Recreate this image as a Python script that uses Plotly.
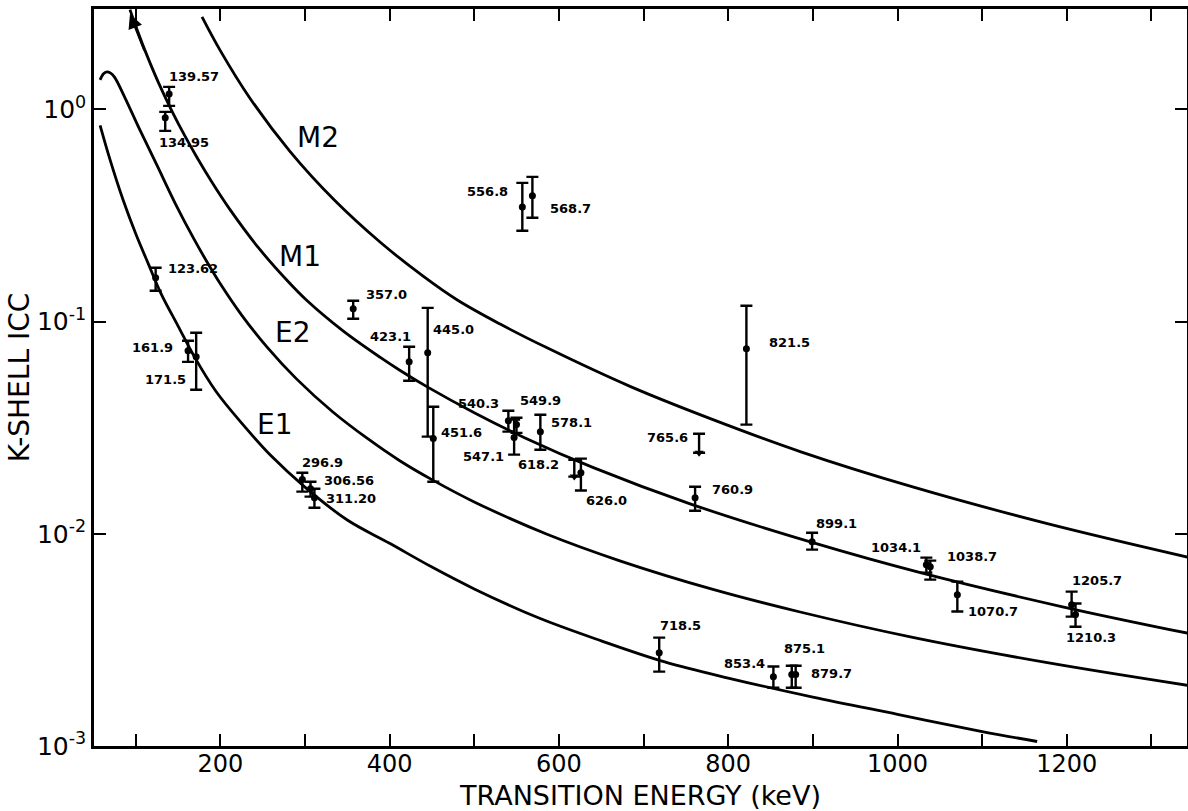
import math
import plotly.graph_objects as go

# ---------------- data ----------------
# theoretical K-shell ICC curves (keV, ICC)
e1_energy = [58, 70, 85, 100, 115, 130, 150, 170, 195, 225, 260, 300, 350, 400, 450, 500, 575, 650, 725,
             800, 900, 1000, 1100, 1165]
e1_icc = [0.841, 0.575, 0.376, 0.260, 0.187, 0.1355, 0.0955, 0.0676, 0.0468, 0.0333, 0.0233, 0.0166, 0.01161,
          0.00902, 0.00697, 0.00550, 0.00403, 0.00313, 0.00249, 0.00209, 0.00170, 0.00141, 0.00117, 0.00105]

e2_energy = [58, 62, 66, 70, 75, 87, 105, 125, 147, 168, 184, 200, 225, 255, 290, 333, 375, 412, 451, 500,
             586, 672, 782, 885, 1018, 1177, 1343]
e2_icc = [1.377, 1.472, 1.503, 1.486, 1.419, 1.143, 0.800, 0.547, 0.359, 0.2486, 0.1919, 0.1507, 0.1076, 0.0760,
          0.0537, 0.0375, 0.0279, 0.0221, 0.0179, 0.01413, 0.00995, 0.00746, 0.00547, 0.00428, 0.00325,
          0.00247, 0.00193]

m1_energy = [93.3, 100, 111, 126.4, 143, 158, 172.5, 190, 211.5, 245, 279, 302, 345, 389, 412, 445, 500, 560,
             640, 755, 900, 1027, 1195, 1343]
m1_icc = [2.951, 2.477, 1.897, 1.352, 0.9795, 0.7516, 0.5929, 0.4545, 0.3368, 0.2230, 0.1561, 0.1260, 0.0904,
          0.0678, 0.0590, 0.0491, 0.0372, 0.0283, 0.02056, 0.01384, 0.00908, 0.00656, 0.00453, 0.00340]

m2_energy = [178.4, 200, 235, 282, 335, 389, 440, 480, 530, 586, 684, 782, 885, 1018, 1177, 1343]
m2_icc = [2.728, 1.892, 1.129, 0.636, 0.3729, 0.2364, 0.1633, 0.1264, 0.0976, 0.0752, 0.0495, 0.0345, 0.0244,
          0.01663, 0.01117, 0.00776]

# measured points
pt_label = ["139.57", "134.95", "123.62", "161.9", "171.5", "296.9", "306.56", "311.20", "357.0", "423.1",
            "445.0", "451.6", "540.3", "547.1", "549.9", "578.1", "626.0", "556.8", "568.7", "821.5",
            "760.9", "899.1", "1034.1", "1038.7", "1070.7", "1205.7", "1210.3", "718.5", "853.4", "875.1", "879.7"]
pt_energy = [139.57, 134.95, 123.62, 161.9, 171.5, 296.9, 306.56, 311.20, 357.0, 423.1,
             445.0, 451.6, 540.3, 547.1, 549.9, 578.1, 626.0, 556.8, 568.7, 821.5,
             760.9, 899.1, 1034.1, 1038.7, 1070.7, 1205.7, 1210.3, 718.5, 853.4, 875.1, 879.7]
pt_icc = [1.183, 0.912, 0.1608, 0.0729, 0.0683, 0.0180, 0.01631, 0.01479, 0.1149, 0.0646,
          0.0713, 0.0281, 0.0341, 0.0284, 0.0327, 0.0303, 0.0194, 0.347, 0.3914, 0.0744,
          0.01479, 0.00918, 0.00715, 0.00700, 0.00516, 0.00463, 0.00416, 0.00275, 0.00212, 0.00217, 0.00217]
pt_icc_hi = [1.276, 0.973, 0.1792, 0.0812, 0.0886, 0.0194, 0.01759, 0.01631, 0.1253, 0.0761,
             0.1161, 0.0397, 0.0380, 0.0345, 0.0352, 0.0364, 0.0226, 0.4506, 0.4809, 0.1187,
             0.01667, 0.01012, 0.00772, 0.00747, 0.00595, 0.00534, 0.00469, 0.00324, 0.00237, 0.00239, 0.00239]
pt_icc_lo = [1.039, 0.792, 0.1397, 0.0646, 0.0477, 0.0158, 0.01496, 0.01327, 0.1031, 0.0526,
             0.0287, 0.01759, 0.0303, 0.0236, 0.0299, 0.0249, 0.0160, 0.2678, 0.3083, 0.0327,
             0.01285, 0.00842, 0.00656, 0.00608, 0.00430, 0.00407, 0.00365, 0.00224, 0.00188, 0.00188, 0.00188]

# upper limits
ul_label = ["618.2", "765.6"]
ul_energy = [618.2, 765.6]
ul_limit = [0.0223, 0.0296]
ul_tip = [0.0186, 0.0241]

x_tickvals = [200, 400, 600, 800, 1000, 1200]
x_ticktext = ["200", "400", "600", "800", "1000", "1200"]
y_tickvals = [0.001, 0.01, 0.1, 1]
y_ticktext = ["10<sup>-3</sup>", "10<sup>-2</sup>", "10<sup>-1</sup>", "10<sup>0</sup>"]

curve_names = ["E1", "E2", "M1", "M2"]

# ---------------- styling / layout constants ----------------
pt_shift = [(25, 17), (19, -25), (37, 9), (-36, 3), (-31, -23), (20, 17), (38, 8), (37, -1), (33, 14), (-19, 25),
            (26, 23), (28, 6), (-30, 17), (-31, -19), (24, 24), (31, 9), (26, -28), (-35, 15), (38, -13), (43, 6),
            (37, 8), (24, 18), (-30, 17), (42, 10), (36, -17), (25, 24), (15, -23), (21, 27), (-29, 13), (13, 26),
            (36, 1)]
ul_shift = [(-36, -5), (-32, -4)]
curve_label_pos = [(264.6, -1.4861), (285.8, -1.0528), (294.1, -0.6952), (315.4, -0.1342)]

FONT = "DejaVu Sans"
lab_font = dict(family=FONT, size=13, color="black", weight="bold")

fig = go.Figure()
for ex, ey in [(e1_energy, e1_icc), (e2_energy, e2_icc), (m1_energy, m1_icc), (m2_energy, m2_icc)]:
    fig.add_trace(go.Scatter(x=ex, y=ey, mode="lines", line=dict(color="black", width=2.8, shape="spline"),
                             showlegend=False, hoverinfo="skip"))

err_plus = [h - c for h, c in zip(pt_icc_hi, pt_icc)]
err_minus = [c - l for c, l in zip(pt_icc, pt_icc_lo)]
fig.add_trace(go.Scatter(x=pt_energy, y=pt_icc, mode="markers",
                         marker=dict(color="black", size=7),
                         error_y=dict(type="data", symmetric=False, array=err_plus, arrayminus=err_minus,
                                      color="black", thickness=2.4, width=6),
                         showlegend=False))
fig.add_trace(go.Scatter(x=ul_energy, y=ul_tip, mode="markers",
                         marker=dict(color="black", size=8, symbol="triangle-down"),
                         error_y=dict(type="data", symmetric=False,
                                      array=[l - t for l, t in zip(ul_limit, ul_tip)],
                                      arrayminus=[0] * len(ul_tip), color="black", thickness=2.4, width=6),
                         showlegend=False))

for lab, ex, ey, (dx, dy) in zip(pt_label, pt_energy, pt_icc, pt_shift):
    fig.add_annotation(x=ex, y=math.log10(ey), text=lab, showarrow=False, xshift=dx, yshift=dy, font=lab_font)
for lab, ex, ey, (dx, dy) in zip(ul_label, ul_energy, ul_limit, ul_shift):
    fig.add_annotation(x=ex, y=math.log10(ey), text=lab, showarrow=False, xshift=dx, yshift=dy, font=lab_font)
for name, (cx, cy) in zip(curve_names, curve_label_pos):
    fig.add_annotation(x=cx, y=cy, text=name, showarrow=False, font=dict(family=FONT, size=28, color="black"))

# arrowhead at the top end of the M1 curve
fig.add_annotation(x=m1_energy[0], y=math.log10(m1_icc[0]) - 0.02, ax=15, ay=38, text="", showarrow=True,
                   arrowhead=2, arrowsize=1.2, arrowwidth=2.4, arrowcolor="black")

axis_common = dict(showline=True, linecolor="black", linewidth=2.6, mirror="ticks", ticks="inside",
                   ticklen=12, tickwidth=2.2, tickcolor="black", showgrid=False, zeroline=False,
                   automargin=False)
fig.update_layout(
    width=1188, height=811,
    margin=dict(l=94, r=1, t=9, b=65),
    paper_bgcolor="white", plot_bgcolor="white",
    showlegend=False,
    xaxis=dict(range=[50.8, 1342], tickvals=x_tickvals, ticktext=x_ticktext,
               minor=dict(tickmode="linear", tick0=0, dtick=100, ticks="inside", ticklen=12, tickwidth=2.2,
                          tickcolor="black", showgrid=False),
               tickfont=dict(family=FONT, size=24, color="black"), ticklabelstandoff=-6,
               title=dict(text="TRANSITION ENERGY (keV)", font=dict(family=FONT, size=27, color="black")),
               **axis_common),
    yaxis=dict(type="log", range=[-3.0, 0.473], tickvals=y_tickvals, ticktext=y_ticktext,
               tickfont=dict(family=FONT, size=25, color="black"),
               title=dict(text="K-SHELL ICC", font=dict(family=FONT, size=28, color="black"), standoff=0),
               **axis_common),
)

fig.write_html("out.html", config={"displayModeBar": False},
               post_script="document.body.style.margin='0px';document.body.style.padding='0px';")
